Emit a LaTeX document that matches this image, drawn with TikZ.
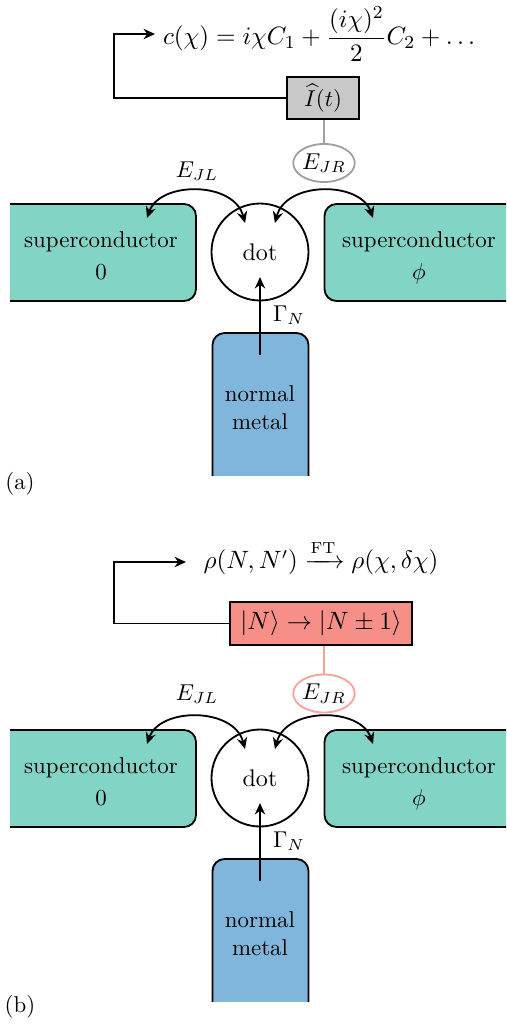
\documentclass[tikz,border=0pt]{standalone}
\usepackage{amsmath}
\usetikzlibrary{arrows.meta,shapes.geometric}
\definecolor{scteal}{HTML}{82D5C5}
\definecolor{nmblue}{HTML}{80B6DB}
\definecolor{boxgray}{HTML}{C8C8C8}
\definecolor{salmonbox}{HTML}{F58F87}
\definecolor{salmonline}{HTML}{F7A29C}
\definecolor{grayline}{HTML}{A0A0A0}
\newcommand\pxu[1]{#1*0.4367pt}
\tikzset{
  lw/.style={line width=0.8pt},
  scbox/.style={draw, lw, fill=scteal, rounded corners=\pxu{12}, minimum width=\pxu{216}, minimum height=\pxu{97}, inner sep=0pt},
  nmbox/.style={draw, lw, fill=nmblue, rounded corners=\pxu{12}, minimum width=\pxu{96}, minimum height=\pxu{190}, inner sep=0pt},
  dotnode/.style={circle, draw, lw, minimum size=\pxu{97}, inner sep=0pt},
  lbl/.style={inner sep=0pt, align=center},
  conn/.style={lw, -{Stealth[length=5pt,width=4.5pt]}},
  dconn/.style={lw, {Stealth[length=5pt,width=4.5pt]}-{Stealth[length=5pt,width=4.5pt]}},
  ejr/.style={ellipse, lw, minimum width=\pxu{58}, minimum height=\pxu{38}, inner sep=0pt},
}
\newcommand\lowerpart[1]{%
  \begin{scope}
    \clip (10,0) rectangle (506,475);
    \node[scbox] (scL) at (88,252.5) {};
    \node[scbox] (scR) at (432.5,252.5) {};
    \node[nmbox] (nm) at (260.5,428) {};
  \end{scope}
  \node[lbl] (scLt) at (101,258) {superconductor\\[2pt]$0\vphantom{\phi}$};
  \node[lbl] (scRt) at (419,258) {superconductor\\[2pt]$\phi$};
  \node[lbl] (nmt) at (260,407.5) {normal\\metal};
  \node[dotnode] (dot) at (260,252) {\fontsize{10.5}{12}\selectfont dot};
  \coordinate (tL) at (147,218);
  \coordinate (tDL) at (245,223);
  \coordinate (tDR) at (275,223);
  \coordinate (tR) at (373,218);
  \coordinate (gs) at (260,355);
  \coordinate (ge) at (260,277);
  \draw[dconn] (tL) .. controls (160,181) and (234,181) .. (tDL);
  \draw[dconn] (tDR) .. controls (286,181) and (360,181) .. (tR);
  \draw[conn] (gs) -- (ge);
  \node[lbl] (gam) at (289,315) {$\Gamma_N$};
  \node[lbl] (ejl) at (197,#1) {$E_{JL}$};
}
\begin{document}
\begin{tikzpicture}[x=0.4367pt, y=-0.4367pt]
\useasboundingbox (0,0) rectangle (506,1024);
% ---------- panel (a)
\begin{scope}[name prefix=a-]
  \lowerpart{171}
  \node[draw, lw, fill=boxgray, minimum width=\pxu{72}, minimum height=\pxu{42}, inner sep=0pt] (box) at (323,98) {$\widehat{I}(t)$};
  \node[ejr, draw=grayline] (ejr) at (324,163) {\raisebox{-3.5pt}{$E_{JR}$}};
  \draw[lw, grayline] (ejr.north) -- (ejr.north |- box.south);
  \node[anchor=west] (form) at (155,34) {\fontsize{11.1}{14}\selectfont $c(\chi) = i\chi C_1 + \dfrac{(i\chi)^2}{2}C_2 + \ldots$};
  \coordinate (corner) at (114,34);
  \draw[conn] (box.west) -| (corner) -- (form.west);
  \node[lbl] (lab) at (20,484) {(a)};
\end{scope}
% ---------- panel (b)
\begin{scope}[shift={(0,526)}, name prefix=b-]
  \lowerpart{168}
  \node[draw, lw, fill=salmonbox, minimum width=\pxu{182}, minimum height=\pxu{43}, inner sep=0pt] (box) at (321,97.5) {\fontsize{10.6}{12}\selectfont $|N\rangle \rightarrow |N\pm 1\rangle$};
  \node[ejr, draw=salmonline] (ejr) at (324,167.5) {$E_{JR}$};
  \draw[lw, salmonline] (ejr.north) -- (ejr.north |- box.south);
  \node[lbl] (form) at (321,31.5) {\fontsize{10.7}{13}\selectfont $\rho(N,N') \xrightarrow{\mathrm{FT}} \rho(\chi,\delta\chi)$};
  \coordinate (corner) at (114,36);
  \coordinate (tip) at (186,36);
  \draw[conn] (box.west) -| (corner) -- (tip);
  \node[lbl] (lab) at (20,481) {(b)};
\end{scope}
\end{tikzpicture}
\end{document}
